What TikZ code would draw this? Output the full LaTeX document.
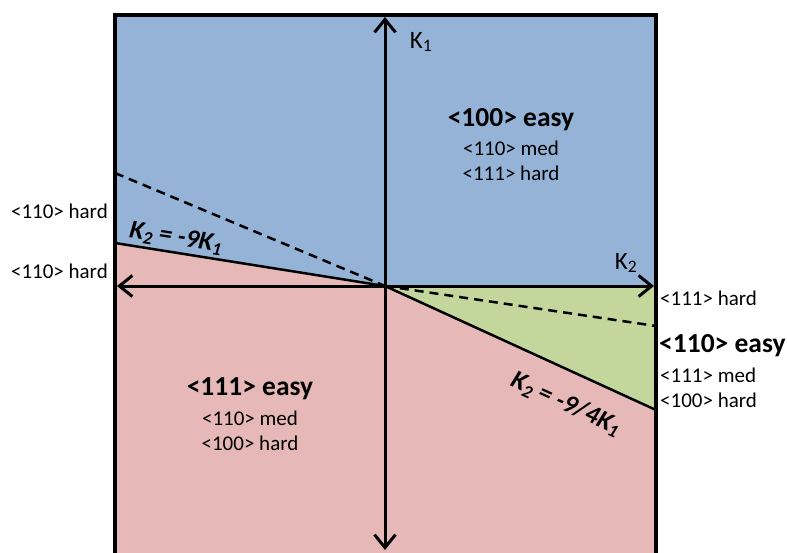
\documentclass[tikz,border=0pt]{standalone}
\usepackage{fontspec}
\setmainfont{Carlito}
\usetikzlibrary{arrows.meta}
\definecolor{blueR}{HTML}{95B3D7}
\definecolor{pinkR}{HTML}{E6B9B8}
\definecolor{greenR}{HTML}{C3D69B}
\begin{document}
\begin{tikzpicture}[x=1pt,y=-1pt,
  barb/.tip={Straight Barb[length=13pt,width=21pt,line width=3pt]},
  axis/.style={line width=3pt,{barb}-{barb}},
  bound/.style={line width=2.5pt},
  dashline/.style={line width=2.5pt,dash pattern=on 9pt off 6pt},
  frame/.style={line width=4.5pt},
  small/.style={font=\fontsize{21}{24}\selectfont,inner sep=0pt},
  big/.style={font=\fontsize{27.5}{31}\bfseries\selectfont,inner sep=0pt},
  axlabel/.style={font=\fontsize{25}{29}\selectfont,inner sep=0pt},
  linelabel/.style={font=\fontsize{26}{30}\bfseries\itshape\selectfont,inner sep=0pt}]
\useasboundingbox (0,0) rectangle (787,552);
\clip (0,0) rectangle (787,552);
% coordinates
\coordinate (O) at (385,286);
\coordinate (TL) at (115,15);
\coordinate (TR) at (656,15);
\coordinate (BL) at (115,565);
\coordinate (BR) at (656,565);
\coordinate (L1) at (115,243);
\coordinate (L2) at (115,173);
\coordinate (R0) at (656,286);
\coordinate (R1) at (656,410);
\coordinate (R2) at (656,326);
\coordinate (At) at (385,17);
\coordinate (Ab) at (385,550);
\coordinate (Al) at (117,286);
\coordinate (Ar) at (654,286);
% regions
\fill[blueR] (TL) -- (TR) -- (R0) -- (O) -- (L1) -- cycle;
\fill[greenR] (O) -- (R0) -- (R1) -- cycle;
\fill[pinkR] (L1) -- (O) -- (R1) -- (BR) -- (BL) -- cycle;
% boundaries
\draw[bound] (L1) -- (O) -- (R1);
\draw[dashline] (L2) -- (O);
\draw[dashline] (O) -- (R2);
% axes
\draw[axis] (Ab) -- (At);
\draw[axis] (Al) -- (Ar);
% frame
\draw[frame] (BL) -- (TL) -- (TR) -- (BR);
% labels
\node[axlabel] (k1) at (421,42) {K\textsubscript{1}};
\node[axlabel] (k2) at (626,263) {K\textsubscript{2}};
\node[big] (t1) at (511,120) {<100> easy};
\node[small] (t2) at (511,148) {<110> med};
\node[small] (t3) at (511,173) {<111> hard};
\node[big] (p1) at (250,389) {<111> easy};
\node[small] (p2) at (250,418) {<110> med};
\node[small] (p3) at (250,443) {<100> hard};
\node[small,anchor=east] (l1) at (108,211) {<110> hard};
\node[small,anchor=east] (l2) at (108,271) {<110> hard};
\node[small,anchor=west] (r1) at (660,298) {<111> hard};
\node[big,anchor=west] (r2) at (659,346) {<110> easy};
\node[small,anchor=west] (r3) at (660,375) {<111> med};
\node[small,anchor=west] (r4) at (660,400) {<100> hard};
\node[linelabel,rotate=-9] (e1) at (176,238) {K\textsubscript{2} = -9K\textsubscript{1}};
\node[linelabel,rotate=-24.6] (e2) at (566,404) {K\textsubscript{2} = -9/4K\textsubscript{1}};
\end{tikzpicture}
\end{document}
